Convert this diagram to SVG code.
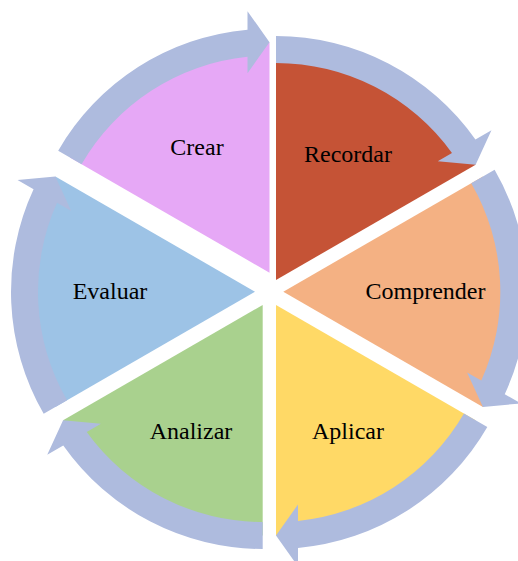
<svg xmlns="http://www.w3.org/2000/svg" width="518" height="561" viewBox="0 0 518 561">
  <style>
    .lbl { font-family: "Liberation Serif", "Times New Roman", serif; font-size: 24px; fill: #000; text-anchor: middle; }
    .arrow { fill: #AEBBDE; stroke: none; }
  </style>
  <rect width="518" height="561" fill="#FFFFFF"/>

  <!-- pie segments, each a 60 degree wedge reaching out to the arrow tip radius -->
  <g id="crear">
    <path d="M269.5,272.7 L69.88,157.45 A230.5,230.5 0 0 1 269.5,42.2 Z" fill="#E6A8F6"/>
    <text class="lbl" x="197" y="154.5">Crear</text>
  </g>
  <g id="recordar">
    <path d="M276,280 L276,49.5 A230.5,230.5 0 0 1 475.62,164.75 Z" fill="#C55336"/>
    <text class="lbl" x="348" y="161.7">Recordar</text>
  </g>
  <g id="comprender">
    <path d="M283.3,291.7 L482.92,176.45 A230.5,230.5 0 0 1 482.92,406.95 Z" fill="#F4B183"/>
    <text class="lbl" x="425.5" y="299.3">Comprender</text>
  </g>
  <g id="aplicar">
    <path d="M276,305 L475.62,420.25 A230.5,230.5 0 0 1 276,535.5 Z" fill="#FFD966"/>
    <text class="lbl" x="348" y="439.3">Aplicar</text>
  </g>
  <g id="analizar">
    <path d="M262.7,305 L262.7,535.5 A230.5,230.5 0 0 1 63.08,420.25 Z" fill="#A9D18E"/>
    <text class="lbl" x="191" y="439.3">Analizar</text>
  </g>
  <g id="evaluar">
    <path d="M255,291.7 L55.38,406.95 A230.5,230.5 0 0 1 55.38,176.45 Z" fill="#9DC3E6"/>
    <text class="lbl" x="110" y="299.3">Evaluar</text>
  </g>

  <!-- clockwise curved arrows around each segment -->
  <g id="connectors">
    <path class="arrow" d="M58.19,150.7 A244,244 0 0 1 247.5,29.7 L247.5,11.2 L269.5,42.2 L247.5,73.2 L247.5,56.8 A217,217 0 0 0 81.57,164.2 Z"/>
    <path class="arrow" d="M276,36 A244,244 0 0 1 475.44,139.45 L491.46,130.2 L475.62,164.75 L437.77,161.2 L451.97,153.0 A217,217 0 0 0 276,63 Z"/>
    <path class="arrow" d="M494.61,169.7 A244,244 0 0 1 504.74,394.15 L520.76,403.4 L482.92,406.95 L467.07,372.4 L481.27,380.6 A217,217 0 0 0 471.23,183.2 Z"/>
    <path class="arrow" d="M487.31,427 A244,244 0 0 1 298,548 L298,566.5 L276,535.5 L298,504.5 L298,520.9 A217,217 0 0 0 463.93,413.5 Z"/>
    <path class="arrow" d="M262.7,549 A244,244 0 0 1 63.26,445.55 L47.24,454.8 L63.08,420.25 L100.93,423.8 L86.73,432.0 A217,217 0 0 0 262.7,522 Z"/>
    <path class="arrow" d="M43.69,413.7 A244,244 0 0 1 33.56,189.25 L17.54,180.0 L55.38,176.45 L71.23,211.0 L57.03,202.8 A217,217 0 0 0 67.07,400.2 Z"/>
  </g>
</svg>
